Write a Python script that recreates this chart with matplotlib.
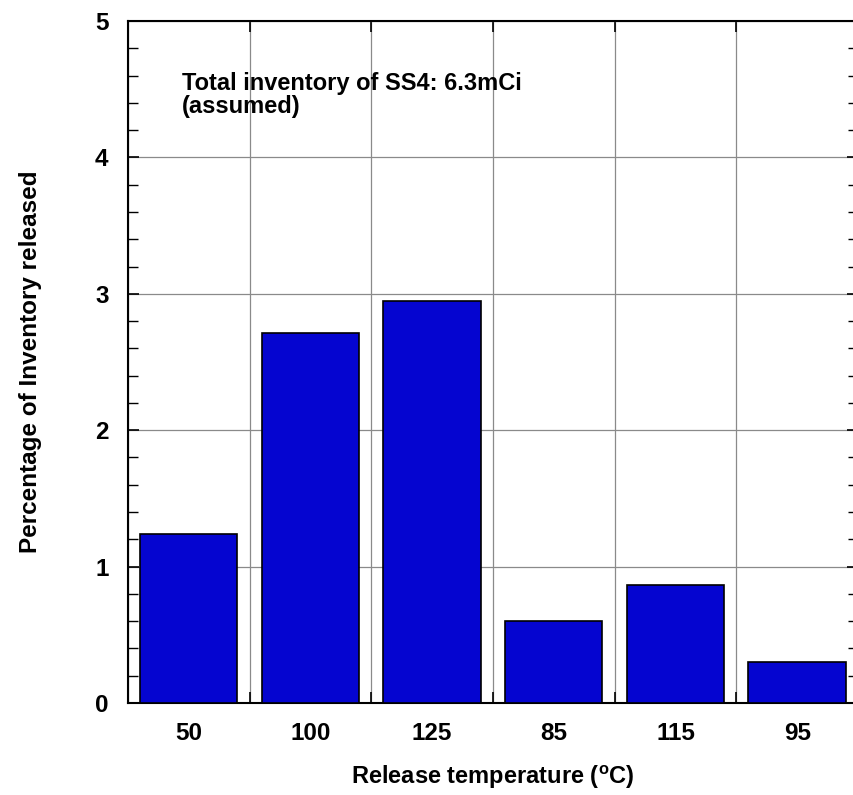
import matplotlib.pyplot as plt
from matplotlib.ticker import MultipleLocator
import numpy as np

plt.rcParams['font.family'] = ['Liberation Sans', 'DejaVu Sans']

# data
temps = ['50', '100', '125', '85', '115', '95']
released = [1.24, 2.71, 2.95, 0.60, 0.865, 0.30]

fig = plt.figure(figsize=(8.54, 7.95), dpi=100)
# axes spans past the right edge slightly, as in the cropped original
ax = fig.add_axes([128 / 854, 92 / 795, 730 / 854, 682 / 795])

x = np.arange(len(temps))
ax.bar(x, released, width=0.8, color='#0505D0', edgecolor='black',
       linewidth=1.2, zorder=3)

ax.set_xlim(-0.5, len(temps) - 0.5)
ax.set_ylim(0, 5)
ax.set_xticks(x)
ax.set_xticklabels(temps)
ax.set_xticks(np.arange(len(temps) + 1) - 0.5, minor=True)
ax.yaxis.set_major_locator(MultipleLocator(1))
ax.yaxis.set_minor_locator(MultipleLocator(0.2))

ax.grid(axis='y', which='major', color='#8a8a8a', linewidth=0.9, zorder=0)
ax.grid(axis='x', which='minor', color='#8a8a8a', linewidth=0.9, zorder=0)

ax.tick_params(axis='y', which='both', direction='in', right=True,
               labelsize=17.5, pad=14)
ax.tick_params(axis='y', which='major', length=8, width=1.2)
ax.tick_params(axis='y', which='minor', length=7, width=1.0)
ax.tick_params(axis='x', which='major', length=0, labelsize=17.5, pad=14)
ax.tick_params(axis='x', which='minor', direction='in', top=True,
               length=8, width=1.2)
for lab in ax.get_xticklabels() + ax.get_yticklabels():
    lab.set_fontweight('bold')

for s in ax.spines.values():
    s.set_linewidth(1.5)

ax.set_xlabel('Release temperature ($^{\\mathregular{o}}$C)', fontsize=17,
              fontweight='bold', labelpad=13)
ax.set_ylabel('Percentage of Inventory released', fontsize=17.5,
              fontweight='bold', labelpad=38)

ax.text(0.074, 0.899, 'Total inventory of SS4: 6.3mCi',
        transform=ax.transAxes, ha='left', va='baseline', fontsize=17,
        fontweight='bold')
ax.text(0.074, 0.865, '(assumed)',
        transform=ax.transAxes, ha='left', va='baseline', fontsize=17,
        fontweight='bold')

fig.savefig('out.png', dpi=100, facecolor='white')
